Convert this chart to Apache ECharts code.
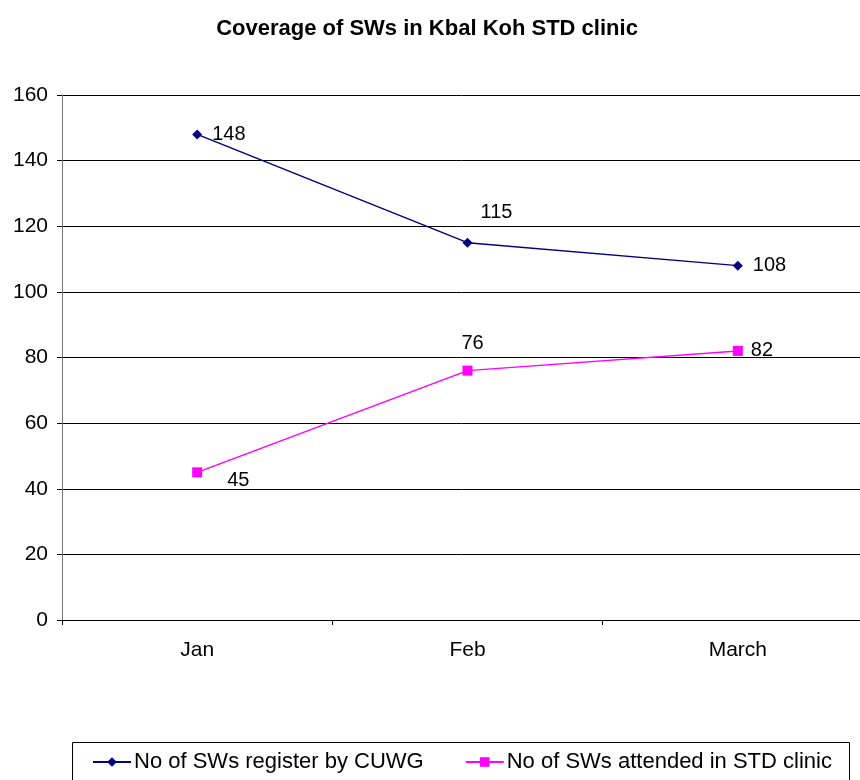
<!DOCTYPE html>
<html>
<head>
    <meta charset="utf-8">
    <title>Coverage of SWs</title>
    <script type="text/javascript" src="https://cdn.jsdelivr.net/npm/echarts@6/dist/echarts.min.js"></script>
</head>
<body style="margin:0;">
<div id="line" style="width:860px;height:780px;"></div>
<script type="text/javascript">
    var months = ['Jan', 'Feb', 'March'];
    var registered = [148, 115, 108];
    var attended = [45, 76, 82];
    var yTicks = [0, 20, 40, 60, 80, 100, 120, 140, 160];

    var myChart = echarts.init(document.getElementById('line'));

    var font = 'Liberation Sans, Arial, sans-serif';

    var option = {
        animation: false,
        textStyle: { fontFamily: font },
        title: {
            text: 'Coverage of SWs in Kbal Koh STD clinic',
            left: 422,
            textAlign: 'center',
            top: 13,
            textStyle: { fontSize: 22, fontWeight: 'bold', color: '#000', fontFamily: font }
        },
        // legend frame (runs off the bottom edge like the original)
        graphic: [{
            type: 'rect',
            left: 70,
            top: 740,
            shape: { x: 0.5, y: 0.5, width: 777, height: 60 },
            style: { fill: 'none', stroke: '#000', lineWidth: 1 }
        }],
        legend: {
            left: 92,
            top: 751,
            padding: 0,
            itemGap: 41,
            itemWidth: 38,
            itemHeight: 12,
            textStyle: { fontSize: 22, color: '#000', fontFamily: font, padding: [0, 0, 0, -2] },
            data: ['No of SWs register by CUWG', 'No of SWs attended in STD clinic']
        },
        grid: {
            left: 62,
            width: 811,
            top: 95,
            bottom: 160,
            outerBoundsMode: 'none',
            containLabel: false
        },
        xAxis: {
            type: 'category',
            data: months,
            boundaryGap: true,
            axisLine: { lineStyle: { color: '#000', width: 1 } },
            axisTick: { show: true, length: 5, inside: false, lineStyle: { color: '#000' } },
            axisLabel: { fontSize: 21, color: '#000', margin: 20 }
        },
        yAxis: {
            type: 'value',
            min: yTicks[0],
            max: yTicks[yTicks.length - 1],
            interval: 20,
            axisLine: { show: true, lineStyle: { color: '#777' } },
            axisTick: { show: true, length: 5, lineStyle: { color: '#000' } },
            axisLabel: { fontSize: 21, color: '#000', margin: 14 },
            splitLine: { show: true, lineStyle: { color: '#000', width: 1 } }
        },
        series: [
            {
                name: 'No of SWs register by CUWG',
                type: 'line',
                data: registered,
                color: '#000080',
                symbol: 'diamond',
                symbolSize: 10,
                lineStyle: { width: 1.5, color: '#000080' },
                itemStyle: { color: '#000080' },
                label: {
                    show: true,
                    fontSize: 20,
                    color: '#000',
                    position: 'right',
                    distance: 10,
                    formatter: function (p) { return p.value; }
                },
                labelLayout: function (params) {
                    if (params.dataIndex === 1) {
                        return { dx: -2, dy: -30 };
                    }
                    return {};
                }
            },
            {
                name: 'No of SWs attended in STD clinic',
                type: 'line',
                data: attended,
                color: '#FF00FF',
                symbol: 'rect',
                symbolSize: 10,
                lineStyle: { width: 1.5, color: '#FF00FF' },
                itemStyle: { color: '#FF00FF' },
                label: {
                    show: true,
                    fontSize: 20,
                    color: '#000',
                    position: 'right',
                    distance: 8,
                    formatter: function (p) { return p.value; }
                },
                labelLayout: function (params) {
                    if (params.dataIndex === 0) {
                        return { dx: 17, dy: 8 };
                    }
                    if (params.dataIndex === 1) {
                        return { dx: -19, dy: -27 };
                    }
                    return {};
                }
            }
        ]
    };
    myChart.setOption(option);
</script>
</body>
</html>
